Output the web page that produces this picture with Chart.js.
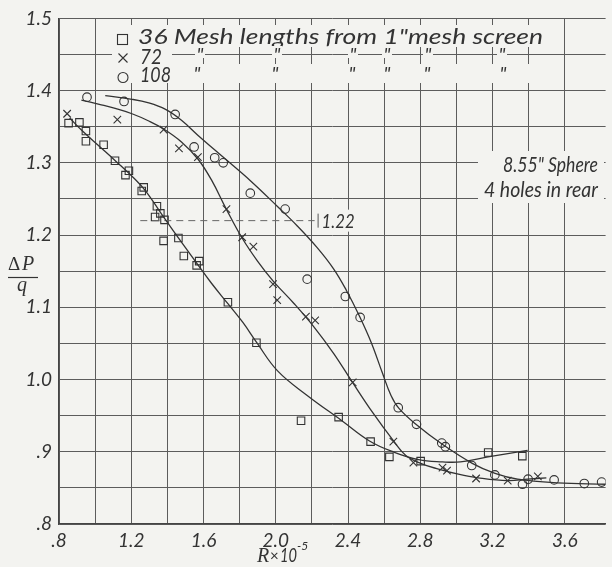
<!DOCTYPE html>
<html>
<head>
<meta charset="utf-8">
<script src="https://cdn.jsdelivr.net/npm/chart.js@4.4.1/dist/chart.umd.min.js"></script>
<style>
  html, body { margin: 0; padding: 0; background: #f3f3f0; }
  #wrap { width: 612px; height: 567px; }
</style>
</head>
<body>
<div id="wrap"><canvas id="chart" width="612" height="567"></canvas></div>
<script>
// measured points, 36 mesh lengths (squares)
const mesh36R = [0.853, 0.913, 0.949, 0.949, 1.047, 1.110, 1.187, 1.168, 1.269, 1.258, 1.342, 1.361, 1.332, 1.384,
  1.379, 1.461, 1.491, 1.576, 1.562, 1.735, 1.893, 2.140, 2.348, 2.525, 2.629, 2.802, 3.176, 3.365];
const mesh36Q = [1.355, 1.356, 1.344, 1.330, 1.325, 1.303, 1.289, 1.283, 1.266, 1.261, 1.240, 1.230, 1.225, 1.221,
  1.192, 1.196, 1.171, 1.164, 1.158, 1.107, 1.051, 0.943, 0.948, 0.914, 0.893, 0.887, 0.899, 0.894];

// 72 mesh lengths (crosses)
const mesh72R = [0.845, 1.123, 1.379, 1.464, 1.569, 1.727, 1.814, 1.876, 1.985, 2.008, 2.167, 2.218, 2.426, 2.651,
  2.762, 2.923, 2.948, 3.109, 3.284, 3.451];
const mesh72Q = [1.368, 1.360, 1.346, 1.320, 1.308, 1.236, 1.197, 1.184, 1.132, 1.110, 1.087, 1.082, 0.996, 0.914,
  0.885, 0.878, 0.874, 0.863, 0.860, 0.866];

// 108 mesh lengths (circles)
const mesh108R = [0.955, 1.160, 1.443, 1.548, 1.662, 1.709, 1.859, 2.052, 2.174, 2.385, 2.467, 2.678, 2.779, 2.919,
  2.939, 3.085, 3.213, 3.366, 3.397, 3.541, 3.708, 3.804];
const mesh108Q = [1.391, 1.385, 1.367, 1.322, 1.307, 1.300, 1.258, 1.236, 1.139, 1.115, 1.086, 0.961, 0.938, 0.912,
  0.907, 0.881, 0.868, 0.855, 0.862, 0.861, 0.856, 0.858];

// faired curves
const curve36R = [0.859, 0.930, 1.023, 1.116, 1.214, 1.280, 1.368, 1.461, 1.554, 1.642, 1.735, 1.818, 1.895, 2.010,
  2.174, 2.366, 2.519, 2.649, 2.791, 2.923, 3.022, 3.175, 3.394];
const curve36Q = [1.362, 1.344, 1.323, 1.302, 1.279, 1.261, 1.229, 1.196, 1.164, 1.134, 1.105, 1.079, 1.051, 1.012,
  0.978, 0.943, 0.915, 0.900, 0.889, 0.886, 0.886, 0.893, 0.902];

const curve72R = [0.924, 1.023, 1.116, 1.204, 1.297, 1.379, 1.478, 1.570, 1.647, 1.724, 1.811, 1.899, 1.987, 2.102,
  2.211, 2.321, 2.425, 2.540, 2.649, 2.720, 2.802, 2.901, 3.011, 3.120, 3.284, 3.394, 3.498];
const curve72Q = [1.387, 1.381, 1.375, 1.368, 1.358, 1.347, 1.329, 1.305, 1.275, 1.237, 1.197, 1.164, 1.136, 1.105,
  1.073, 1.036, 0.996, 0.953, 0.916, 0.895, 0.884, 0.876, 0.869, 0.864, 0.860, 0.862, 0.864];

const curve108R = [1.056, 1.204, 1.297, 1.390, 1.478, 1.570, 1.718, 1.861, 2.008, 2.118, 2.228, 2.321, 2.392, 2.463,
  2.529, 2.589, 2.638, 2.682, 2.781, 2.918, 3.088, 3.214, 3.339, 3.558, 3.826];
const curve108Q = [1.393, 1.388, 1.383, 1.374, 1.359, 1.338, 1.306, 1.275, 1.240, 1.213, 1.183, 1.153, 1.123, 1.088,
  1.051, 1.010, 0.978, 0.960, 0.937, 0.911, 0.884, 0.870, 0.862, 0.857, 0.855];

// dashed reference at 1.22
const refLineR = [1.250, 2.215];
const refLineQ = [1.22, 1.22];

const xTickValues = [0.8, 1.2, 1.6, 2.0, 2.4, 2.8, 3.2, 3.6];
const xTickText = ['.8', '1.2', '1.6', '2.0', '2.4', '2.8', '3.2', '3.6'];
const yTickValues = [0.8, 0.9, 1.0, 1.1, 1.2, 1.3, 1.4, 1.5];
const yTickText = ['.8', '.9', '1.0', '1.1', '1.2', '1.3', '1.4', '1.5'];

const paper = '#f3f3f0';
const ink = '#333333';
const gridInk = '#5c5c5c';
const sans = 'Lato, "Open Sans", "DejaVu Sans", sans-serif';
const serif = '"Liberation Serif", "DejaVu Serif", serif';

function pts(xs, ys) {
  return xs.map((x, i) => ({ x: x, y: ys[i] }));
}

function tickText(values, texts, v) {
  const i = values.findIndex(t => Math.abs(t - v) < 1e-6);
  return i >= 0 ? texts[i] : '';
}

// text squeezed/stretched to a given width
function fitText(ctx, text, x, y, width, font) {
  ctx.save();
  ctx.font = font;
  const w = ctx.measureText(text).width;
  ctx.translate(x, y);
  ctx.scale(width / w, 1);
  ctx.fillText(text, 0, 0);
  ctx.restore();
}

function box(ctx, x, y, w, h) {
  ctx.fillStyle = paper;
  ctx.fillRect(x, y, w, h);
}

const sketch = {
  id: 'sketch',
  beforeDraw(chart) {
    const ctx = chart.ctx;
    ctx.save();
    ctx.fillStyle = paper;
    ctx.fillRect(0, 0, chart.width, chart.height);
    ctx.restore();
  },
  beforeDatasetsDraw(chart) {
    const ctx = chart.ctx;
    const xs = chart.scales.x, ys = chart.scales.y;
    const f20 = 'italic 21px ' + sans;
    ctx.save();

    // legend block
    box(ctx, 112, 25, 436, 22);
    box(ctx, 112, 47, 60, 36);
    box(ctx, 112, 64, 436, 19);
    ctx.fillStyle = ink;
    ctx.strokeStyle = ink;
    ctx.lineWidth = 1.1;
    ctx.textBaseline = 'middle';
    ctx.textAlign = 'left';
    ctx.strokeRect(117.5, 34.5, 10, 10);
    ctx.beginPath();
    ctx.moveTo(118.5, 53.5); ctx.lineTo(127.5, 62.5);
    ctx.moveTo(127.5, 53.5); ctx.lineTo(118.5, 62.5);
    ctx.stroke();
    ctx.beginPath();
    ctx.arc(123, 77.5, 5, 0, Math.PI * 2);
    ctx.stroke();
    fitText(ctx, '36 Mesh lengths from 1"mesh screen', 138, 37, 405, f20);
    fitText(ctx, '72', 140, 57, 22, 'italic 22px ' + sans);
    fitText(ctx, '108', 140, 75, 31, 'italic 22px ' + sans);
    const ditto2 = [200, 277, 353, 387, 428, 502];
    const ditto3 = [197, 275, 352, 387, 427, 503];
    ctx.font = 'italic 20px ' + sans;
    ctx.textAlign = 'center';
    ditto2.forEach(x => { box(ctx, x - 5, 46, 10, 12); ctx.fillStyle = ink; ctx.fillText('"', x, 56); });
    ditto3.forEach(x => { ctx.fillText('"', x, 75); });

    // sphere note
    box(ctx, 478, 151, 126, 52);
    ctx.fillStyle = ink;
    ctx.textAlign = 'left';
    fitText(ctx, '8.55" Sphere', 503, 165, 95, f20);
    fitText(ctx, '4 holes in rear', 484, 190, 114, f20);

    // 1.22 label at end of dashed line
    const ex = xs.getPixelForValue(refLineR[1]);
    const ey = ys.getPixelForValue(refLineQ[1]);
    box(ctx, ex + 4, ey - 11, 40, 22);
    ctx.fillStyle = ink;
    fitText(ctx, '1.22', ex + 7, ey + 1, 33, 'italic 19px ' + sans);
    ctx.strokeStyle = '#555';
    ctx.lineWidth = 1;
    ctx.beginPath();
    ctx.moveTo(ex + 3.5, ey - 7); ctx.lineTo(ex + 3.5, ey + 7);
    ctx.stroke();
    ctx.restore();
  },
  afterDraw(chart) {
    const ctx = chart.ctx;
    ctx.save();
    ctx.fillStyle = ink;
    ctx.strokeStyle = ink;
    ctx.textBaseline = 'alphabetic';
    // y title as a fraction
    ctx.textAlign = 'left';
    ctx.font = '19px ' + serif;
    ctx.fillText('\u0394', 8, 270);
    ctx.font = 'italic 20px ' + serif;
    ctx.fillText('P', 22, 270);
    ctx.lineWidth = 1.2;
    ctx.beginPath();
    ctx.moveTo(8, 277.5); ctx.lineTo(38, 277.5);
    ctx.stroke();
    ctx.textAlign = 'center';
    ctx.font = 'italic 20px ' + serif;
    ctx.fillText('q', 22, 291);
    // x title
    ctx.textAlign = 'left';
    ctx.font = 'italic 20px ' + serif;
    ctx.fillText('R', 257, 562);
    ctx.font = '15px ' + sans;
    ctx.fillText('\u00d7', 270, 561);
    fitText(ctx, '10', 280, 562, 17, 'italic 19px ' + sans);
    ctx.font = 'italic 12px ' + sans;
    ctx.fillText('-5', 297, 550);
    ctx.restore();
  }
};

new Chart(document.getElementById('chart'), {
  type: 'scatter',
  data: {
    datasets: [
      { data: pts(curve36R, curve36Q), showLine: true, borderColor: ink, borderWidth: 1.3, pointRadius: 0, tension: 0.4 },
      { data: pts(curve72R, curve72Q), showLine: true, borderColor: ink, borderWidth: 1.3, pointRadius: 0, tension: 0.4 },
      { data: pts(curve108R, curve108Q), showLine: true, borderColor: ink, borderWidth: 1.3, pointRadius: 0, tension: 0.4 },
      { data: pts(refLineR, refLineQ), showLine: true, borderColor: '#666', borderWidth: 1, borderDash: [7, 5], pointRadius: 0 },
      { data: pts(mesh36R, mesh36Q), pointStyle: 'rect', pointRadius: 5.3, borderColor: ink, borderWidth: 1.1, backgroundColor: 'rgba(0,0,0,0)' },
      { data: pts(mesh72R, mesh72Q), pointStyle: 'crossRot', pointRadius: 5.3, borderColor: ink, borderWidth: 1.1 },
      { data: pts(mesh108R, mesh108Q), pointStyle: 'circle', pointRadius: 4.3, borderColor: ink, borderWidth: 1.1, backgroundColor: 'rgba(0,0,0,0)' }
    ]
  },
  options: {
    responsive: false,
    animation: false,
    events: [],
    layout: { padding: { top: 16, left: 0, right: 0, bottom: 0 } },
    plugins: { legend: { display: false }, tooltip: { enabled: false } },
    scales: {
      x: {
        type: 'linear',
        min: 0.8,
        max: 3.826,
        afterFit: s => { s.height = 43; },
        afterBuildTicks: s => { s.ticks = s.ticks.filter(t => Math.abs(t.value * 5 - Math.round(t.value * 5)) < 1e-6); },
        ticks: {
          stepSize: 0.2,
          autoSkip: false,
          maxRotation: 0,
          padding: 5,
          color: ink,
          font: { family: sans, size: 19, style: 'italic' },
          callback: v => tickText(xTickValues, xTickText, v)
        },
        grid: { color: gridInk, lineWidth: 1, drawTicks: false },
        border: { display: true, color: '#444', width: 1.2 }
      },
      y: {
        type: 'linear',
        min: 0.8,
        max: 1.5,
        afterFit: s => { s.width = 59; },
        afterBuildTicks: s => { s.ticks = s.ticks.filter(t => Math.abs(t.value * 20 - Math.round(t.value * 20)) < 1e-6); },
        ticks: {
          stepSize: 0.05,
          autoSkip: false,
          padding: 7,
          color: ink,
          font: { family: sans, size: 19, style: 'italic' },
          callback: v => tickText(yTickValues, yTickText, v)
        },
        grid: { color: gridInk, lineWidth: 1, drawTicks: false },
        border: { display: true, color: '#444', width: 1.2 }
      }
    }
  },
  plugins: [sketch]
});
</script>
</body>
</html>
